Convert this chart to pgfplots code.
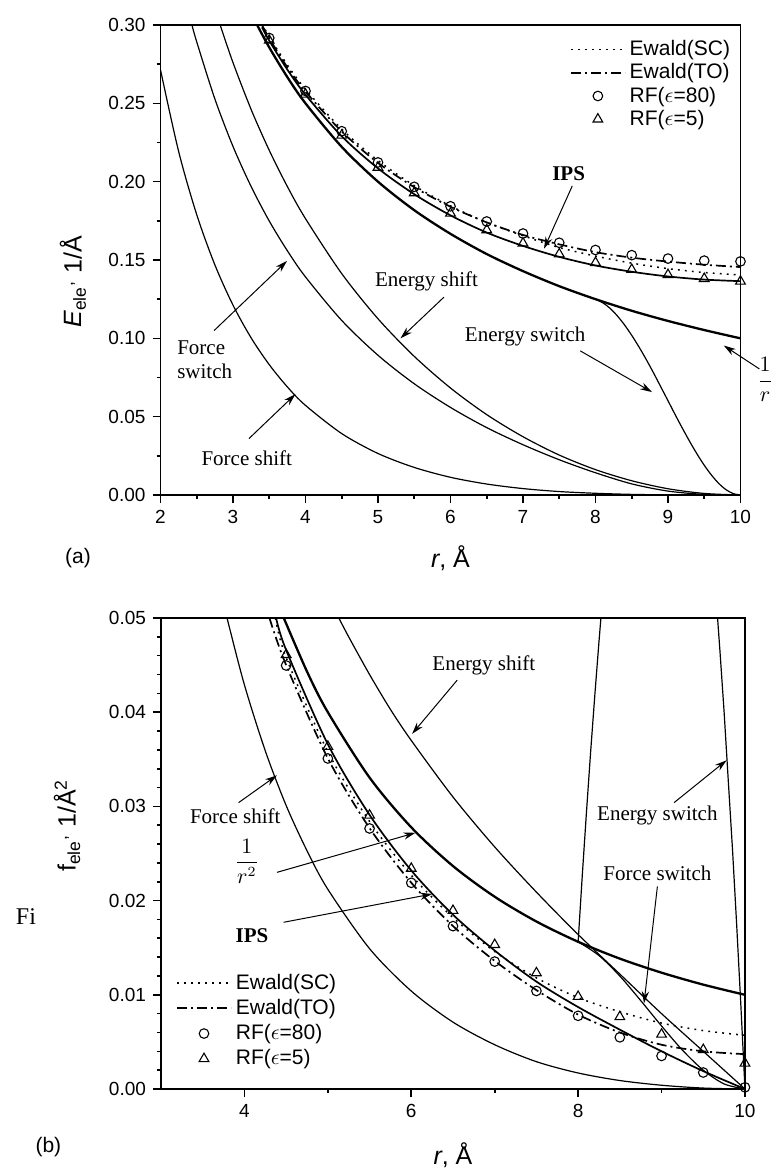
\documentclass[border=0pt]{standalone}
\usepackage{fontspec}
\setmainfont{Liberation Sans}
\newfontfamily\serif{Liberation Serif}
\usepackage{pgfplots}
\pgfplotsset{compat=1.18}
\usetikzlibrary{arrows.meta}

\tikzset{
  note/.style={font=\serif\fontsize{10.5}{12}\selectfont, align=left},
  arr/.style={-{Stealth[length=6pt,width=3.6pt]}, line width=0.5pt},
}
\pgfplotsset{
  thinc/.style={black, line width=0.6pt, smooth, no markers},
  thickc/.style={black, line width=1.15pt, smooth, no markers},
  linelegend/.style={legend image code/.code={\draw[##1] (0pt,0pt) -- (27pt,0pt);}},
  marklegend/.style={legend image code/.code={\draw[mark repeat=2,mark phase=2,##1] plot coordinates {(0pt,0pt) (13.5pt,0pt) (27pt,0pt)};}},
  panel/.style={
    scale only axis, anchor=north west,
    tick align=outside, tick pos=left,
    major tick length=4pt, minor tick length=2pt,
    axis line style={line width=0.9pt},
    every tick/.style={black, line width=0.8pt},
    tick label style={font=\fontsize{9.5}{11}\selectfont},
    /pgf/number format/assume math mode=true,
    y tick label style={/pgf/number format/fixed, /pgf/number format/fixed zerofill, /pgf/number format/precision=2},
    scaled y ticks=false,
    label style={font=\fontsize{12.5}{14}\selectfont},
    legend cell align=left,
    clip mode=individual,
  },
}

\begin{document}
\begin{tikzpicture}
\useasboundingbox (0,0) rectangle (388pt,-584.5pt);

% ---------------- (a) energy ----------------
\begin{axis}[panel,
  at={(80.25pt,-12.5pt)}, width=290pt, height=235pt,
  xmin=2, xmax=10, ymin=0, ymax=0.30,
  xtick={2,3,4,5,6,7,8,9,10}, minor x tick num=1,
  ytick={0,0.05,0.10,0.15,0.20,0.25,0.30}, minor y tick num=1,
  xlabel={\textit{r}, Å},
  ylabel={\textit{E}\textsubscript{ele}\textsuperscript{,}\ 1/Å},
  xlabel style={at={(axis description cs:0.5,-0.134)}, anchor=center},
  ylabel style={at={(axis description cs:-0.151,0.453)}, anchor=center},
  legend style={at={(axis description cs:1.0,0.985)}, anchor=north east,
    draw=none, fill=none, font=\fontsize{10.5}{12}\selectfont, row sep=-1.5pt},
]
\addplot[black, line width=0.75pt, dash pattern=on 0.9pt off 2.6pt, smooth, linelegend] table {
3.4 0.301
3.5 0.2925
3.75 0.2745
4.0 0.259
4.5 0.2335
5.0 0.2135
5.5 0.1975
6.0 0.1845
6.5 0.174
7.0 0.1655
7.5 0.158
8.0 0.1525
8.5 0.148
9.0 0.1445
9.5 0.142
10.0 0.1405
};
\addlegendentry{Ewald(SC)}
\addplot[black, line width=0.85pt, dash pattern=on 5pt off 2pt on 1pt off 2pt, smooth, linelegend] table {
3.4 0.300
3.5 0.2915
3.75 0.273
4.0 0.2575
4.5 0.232
5.0 0.212
5.5 0.1965
6.0 0.184
6.5 0.174
7.0 0.166
7.5 0.160
8.0 0.155
8.5 0.1515
9.0 0.149
9.5 0.147
10.0 0.1455
};
\addlegendentry{Ewald(TO)}
\addplot[black, only marks, mark=o, mark size=2.4pt, mark options={fill=white, line width=0.55pt}, marklegend] table {
3.5 0.2917
4.0 0.2579
4.5 0.2322
5.0 0.2123
5.5 0.1967
6.0 0.1843
6.5 0.1746
7.0 0.1669
7.5 0.1610
8.0 0.1564
8.5 0.1531
9.0 0.1509
9.5 0.1496
10.0 0.1491
};
\addlegendentry{RF($\epsilon$=80)}
\addplot[black, only marks, mark=triangle, mark size=2.8pt, mark options={fill=white, line width=0.55pt}, marklegend] table {
3.5 0.2902
4.0 0.2558
4.5 0.2296
5.0 0.2091
5.5 0.1928
6.0 0.1798
6.5 0.1692
7.0 0.1607
7.5 0.1538
8.0 0.1483
8.5 0.1439
9.0 0.1406
9.5 0.1381
10.0 0.1364
};
\addlegendentry{RF($\epsilon$=5)}
% IPS
\addplot[thinc, line width=0.85pt, forget plot] table {
3.4 0.2985
3.5 0.290
3.75 0.2715
4.0 0.2555
4.5 0.229
5.0 0.2085
5.5 0.192
6.0 0.1785
6.5 0.1675
7.0 0.159
7.5 0.152
8.0 0.1465
8.5 0.1425
9.0 0.1395
9.5 0.1375
10.0 0.1365
};
% 1/r
\addplot[thickc, forget plot] table {
3.333 0.3000
3.5 0.2857
3.75 0.2667
4.0 0.2500
4.5 0.2222
5.0 0.2000
5.5 0.1818
6.0 0.1667
6.5 0.1538
7.0 0.1429
7.5 0.1333
8.0 0.1250
8.5 0.1176
9.0 0.1111
9.5 0.1053
10.0 0.1000
};
% energy switch
\addplot[thinc, forget plot] table {
8.0 0.1250
8.1 0.1227
8.2 0.1192
8.3 0.1144
8.4 0.1086
8.5 0.1019
8.6 0.0945
8.7 0.0865
8.8 0.0780
8.9 0.0691
9.0 0.0602
9.1 0.0512
9.2 0.0425
9.3 0.0341
9.4 0.0262
9.5 0.0190
9.6 0.0127
9.7 0.0074
9.8 0.0034
9.9 0.0009
10.0 0.0
};
% energy shift
\addplot[thinc, forget plot] table {
2.82 0.3004
3.0 0.2760
3.25 0.2461
3.5 0.2200
3.75 0.1969
4.0 0.1764
4.5 0.1413
5.0 0.1125
5.5 0.0885
6.0 0.0683
6.5 0.0513
7.0 0.0372
7.5 0.0255
8.0 0.0162
8.5 0.0091
9.0 0.0040
9.5 0.0010
10.0 0.0
};
% force switch
\addplot[thinc, forget plot] table {
2.43 0.3007
2.5 0.2892
2.75 0.2528
3.0 0.2225
3.25 0.1969
3.5 0.1749
3.75 0.1559
4.0 0.1392
4.5 0.1114
5.0 0.0892
5.5 0.0710
6.0 0.0559
6.5 0.0430
7.0 0.0321
7.5 0.0225
8.0 0.0142
8.5 0.0071
9.0 0.0025
9.5 0.0004
10.0 0.0
};
% force shift
\addplot[thinc, forget plot] table {
2.0 0.2714
2.25 0.2193
2.5 0.1789
2.75 0.1469
3.0 0.1212
3.25 0.1003
3.5 0.0832
3.75 0.0690
4.0 0.0572
4.5 0.0392
5.0 0.0265
5.5 0.0176
6.0 0.0113
6.5 0.0070
7.0 0.0041
7.5 0.0022
8.0 0.0011
8.5 0.0004
9.0 0.0001
9.5 0.0
10.0 0.0
};
\node[note] at (axis cs:2.61,0.0863) {Force\\switch};
\draw[arr] (axis cs:2.74,0.105) -- (axis cs:3.745,0.1494);
\node[note] at (axis cs:3.19,0.0234) {Force shift};
\draw[arr] (axis cs:3.22,0.036) -- (axis cs:3.86,0.0643);
\node[note] at (axis cs:5.67,0.1366) {Energy shift};
\draw[arr] (axis cs:5.91,0.1263) -- (axis cs:5.31,0.100);
\node[note] at (axis cs:7.03,0.1011) {Energy switch};
\draw[arr] (axis cs:7.79,0.092) -- (axis cs:8.78,0.0657);
\node[note, font=\serif\bfseries\fontsize{10.5}{12}\selectfont] at (axis cs:7.63,0.2053) {IPS};
\draw[arr] (axis cs:7.68,0.1973) -- (axis cs:7.29,0.1572);
\node[note, inner sep=0pt] at (axis cs:10.34,0.0737) {$\displaystyle\frac{1}{r}$};
\draw[arr] (axis cs:10.26,0.0805) -- (axis cs:9.77,0.0954);
\end{axis}

% ---------------- (b) force ----------------
\begin{axis}[panel,
  at={(80.5pt,-309pt)}, width=292pt, height=235.5pt,
  xmin=3, xmax=10, ymin=0, ymax=0.05,
  xtick={4,6,8,10}, minor x tick num=1,
  ytick={0,0.01,0.02,0.03,0.04,0.05}, minor y tick num=4,
  xlabel={\textit{r}, Å},
  ylabel={f\textsubscript{ele}\textsuperscript{,}\ 1/Å\textsuperscript{2}},
  xlabel style={at={(axis description cs:0.5,-0.14)}, anchor=center},
  ylabel style={at={(axis description cs:-0.161,0.559)}, anchor=center},
  legend style={at={(axis description cs:0.015,0.262)}, anchor=north west,
    draw=none, fill=none, font=\fontsize{10.5}{12}\selectfont, row sep=-0.5pt},
]
\addplot[black, line width=0.75pt, dash pattern=on 0.9pt off 2.6pt, smooth, linelegend] table {
4.37 0.0500
4.5 0.0458
5.0 0.0358
5.5 0.0284
6.0 0.0227
6.5 0.0182
7.0 0.0146
7.5 0.0118
8.0 0.0097
8.5 0.0082
9.0 0.0070
9.5 0.0062
10.0 0.0057
};
\addlegendentry{Ewald(SC)}
\addplot[black, line width=0.85pt, dash pattern=on 5pt off 2pt on 1pt off 2pt, smooth, linelegend] table {
4.3 0.0500
4.5 0.0450
5.0 0.0351
5.5 0.0277
6.0 0.0219
6.5 0.0173
7.0 0.0136
7.5 0.0105
8.0 0.0079
8.5 0.0060
9.0 0.0047
9.5 0.0040
10.0 0.0037
};
\addlegendentry{Ewald(TO)}
\addplot[black, only marks, mark=o, mark size=2.4pt, mark options={fill=white, line width=0.55pt}, marklegend] table {
4.5 0.04496
5.0 0.03509
5.5 0.02766
6.0 0.02189
6.5 0.01729
7.0 0.01353
7.5 0.01041
8.0 0.00777
8.5 0.00549
9.0 0.00351
9.5 0.00175
10.0 0.00018
};
\addlegendentry{RF($\epsilon$=80)}
\addplot[black, only marks, mark=triangle, mark size=2.8pt, mark options={fill=white, line width=0.55pt}, marklegend] table {
4.5 0.04611
5.0 0.03636
5.5 0.02906
6.0 0.02341
6.5 0.01894
7.0 0.01532
7.5 0.01232
8.0 0.00981
8.5 0.00766
9.0 0.00580
9.5 0.00417
10.0 0.00273
};
\addlegendentry{RF($\epsilon$=5)}
% IPS
\addplot[thinc, line width=0.85pt, forget plot] table {
4.38 0.0500
4.5 0.0466
5.0 0.0366
5.5 0.0291
6.0 0.0232
6.5 0.0185
7.0 0.0147
7.5 0.0114
8.0 0.0087
8.5 0.0063
9.0 0.0040
9.5 0.0019
10.0 0.0
};
% 1/r^2
\addplot[thickc, forget plot] table {
4.472 0.0500
4.75 0.04432
5.0 0.04000
5.5 0.03306
6.0 0.02778
6.5 0.02367
7.0 0.02041
7.5 0.01778
8.0 0.01563
8.5 0.01384
9.0 0.01235
9.5 0.01108
10.0 0.01000
};
\addplot[black, line width=1.1pt, forget plot] table {
10.0 0.0100
10.0 0.0
};
% force switch
\addplot[thinc, forget plot] table {
8.0 0.01563
8.25 0.01417
8.5 0.01199
8.75 0.00939
9.0 0.00669
9.25 0.00413
9.5 0.0020
9.75 0.00054
10.0 0.0
};
% energy switch
\addplot[black, line width=0.6pt, forget plot] table {
8.0 0.0156
8.05 0.0227
8.1 0.0294
8.15 0.0358
8.2 0.0418
8.25 0.0475
8.3 0.0529
8.35 0.0579
8.4 0.0626
8.5 0.0709
9.0 0.0898
9.5 0.0678
9.6 0.0582
9.65 0.0526
9.7 0.0465
9.75 0.0400
9.8 0.0327
9.85 0.0255
9.9 0.0175
9.95 0.0090
10.0 0.0
};
% energy shift
\addplot[thinc, forget plot] table {
5.12 0.0502
5.25 0.0480
5.5 0.0440
5.75 0.0403
6.0 0.0370
6.5 0.0310
7.0 0.0257
7.5 0.0209
8.0 0.0164
8.5 0.0122
9.0 0.0080
9.5 0.0040
10.0 0.0
};
% force shift
\addplot[thinc, forget plot] table {
3.75 0.0515
3.8 0.0497
4.0 0.0429
4.25 0.0359
4.5 0.0301
4.75 0.0253
5.0 0.0212
5.5 0.0149
6.0 0.0104
6.5 0.0071
7.0 0.0047
7.5 0.0029
8.0 0.0017
8.5 0.0009
9.0 0.0004
9.5 0.0001
10.0 0.0
};
\node[note] at (axis cs:6.87,0.0450) {Energy shift};
\draw[arr] (axis cs:6.55,0.0434) -- (axis cs:6.01,0.0377);
\node[note] at (axis cs:8.95,0.0290) {Energy switch};
\draw[arr] (axis cs:9.15,0.0304) -- (axis cs:9.78,0.0349);
\node[note] at (axis cs:8.95,0.0229) {Force switch};
\draw[arr] (axis cs:8.95,0.0215) -- (axis cs:8.79,0.0091);
\node[note] at (axis cs:3.89,0.0290) {Force shift};
\draw[arr] (axis cs:3.93,0.0304) -- (axis cs:4.39,0.0333);
\node[note] at (axis cs:4.03,0.0242) {$\displaystyle\frac{1}{r^2}$};
\draw[arr] (axis cs:4.39,0.0230) -- (axis cs:6.05,0.0272);
\node[note, font=\serif\bfseries\fontsize{10.5}{12}\selectfont] at (axis cs:4.09,0.0163) {IPS};
\draw[arr] (axis cs:4.47,0.0177) -- (axis cs:6.25,0.0207);
\end{axis}

\node[font=\fontsize{10.5}{12}\selectfont] at (39pt,-279pt) {(a)};
\node[font=\fontsize{10.5}{12}\selectfont] at (24.2pt,-573.3pt) {(b)};
\node[font=\serif\fontsize{12}{14}\selectfont] at (13pt,-458.3pt) {Fi};
\end{tikzpicture}
\end{document}
